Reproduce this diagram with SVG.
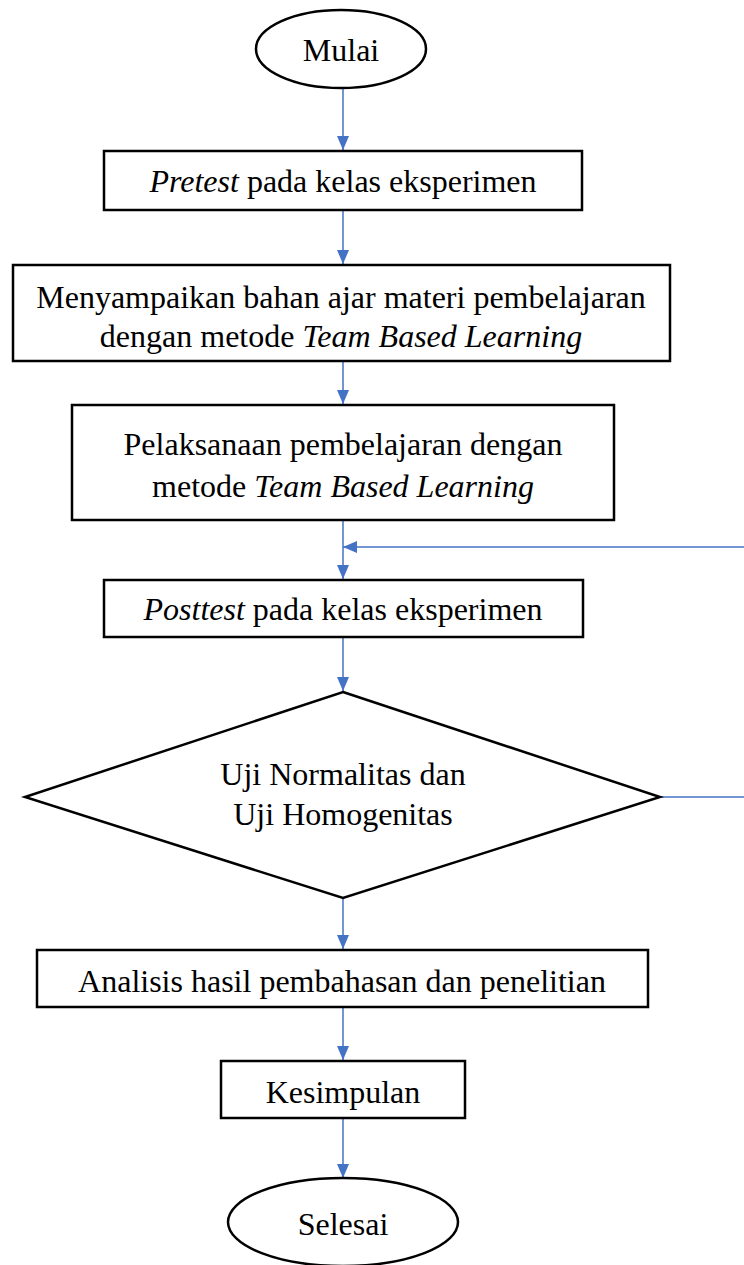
<svg xmlns="http://www.w3.org/2000/svg" width="744" height="1265" viewBox="0 0 744 1265">
<defs>
<marker id="ah" markerWidth="14" markerHeight="12" refX="14" refY="6" orient="auto" markerUnits="userSpaceOnUse" viewBox="0 0 14 12">
<path d="M0,0 L14,6 L0,12 Z" fill="#4472C4"/>
</marker>
<style>
.n{fill:#fff;stroke:#000;stroke-width:2.5}
.t{font-family:"Liberation Serif","Times New Roman",serif;font-size:32px;fill:#000;text-anchor:middle}
.i{font-style:italic}
.c{stroke:#4472C4;stroke-width:1.5;fill:none}
.ca{stroke:#4472C4;stroke-width:1.5;fill:none;marker-end:url(#ah)}
</style>
</defs>
<rect width="744" height="1265" fill="#fff"/>
<g id="connectors">
<line class="ca" x1="343" y1="88" x2="343" y2="150"/>
<line class="ca" x1="343" y1="210" x2="343" y2="264"/>
<line class="ca" x1="343" y1="361" x2="343" y2="404"/>
<line class="ca" x1="343" y1="520" x2="343" y2="579"/>
<polyline class="ca" points="744,547 343,547"/>
<line class="ca" x1="343" y1="637" x2="343" y2="691"/>
<line class="c" x1="660" y1="797" x2="744" y2="797"/>
<line class="ca" x1="343" y1="898" x2="343" y2="949"/>
<line class="ca" x1="343" y1="1007" x2="343" y2="1060"/>
<line class="ca" x1="343" y1="1118" x2="343" y2="1178"/>
</g>
<g id="mulai">
<ellipse class="n" cx="341" cy="49" rx="85" ry="39"/>
<text class="t" x="341" y="61">Mulai</text>
</g>
<g id="pretest">
<rect class="n" x="104" y="151" width="478" height="59"/>
<text class="t" x="343" y="192"><tspan class="i">Pretest</tspan> pada kelas eksperimen</text>
</g>
<g id="menyampaikan">
<rect class="n" x="13" y="265" width="657" height="96"/>
<text class="t" x="341" y="308">Menyampaikan bahan ajar materi pembelajaran</text>
<text class="t" x="341" y="347">dengan metode <tspan class="i">Team Based Learning</tspan></text>
</g>
<g id="pelaksanaan">
<rect class="n" x="72" y="405" width="542" height="115"/>
<text class="t" x="343" y="455">Pelaksanaan pembelajaran dengan</text>
<text class="t" x="343" y="497">metode <tspan class="i">Team Based Learning</tspan></text>
</g>
<g id="posttest">
<rect class="n" x="104" y="580" width="479" height="57"/>
<text class="t" x="343" y="620"><tspan class="i">Posttest</tspan> pada kelas eksperimen</text>
</g>
<g id="uji">
<polygon class="n" points="343,692 660,797 343,898 25,797"/>
<text class="t" x="343" y="785">Uji Normalitas dan</text>
<text class="t" x="343" y="825">Uji Homogenitas</text>
</g>
<g id="analisis">
<rect class="n" x="37" y="950" width="611" height="57"/>
<text class="t" x="342" y="992">Analisis hasil pembahasan dan penelitian</text>
</g>
<g id="kesimpulan">
<rect class="n" x="221" y="1061" width="244" height="57"/>
<text class="t" x="343" y="1103">Kesimpulan</text>
</g>
<g id="selesai">
<ellipse class="n" cx="343" cy="1222" rx="115" ry="44"/>
<text class="t" x="343" y="1235">Selesai</text>
</g>
</svg>
